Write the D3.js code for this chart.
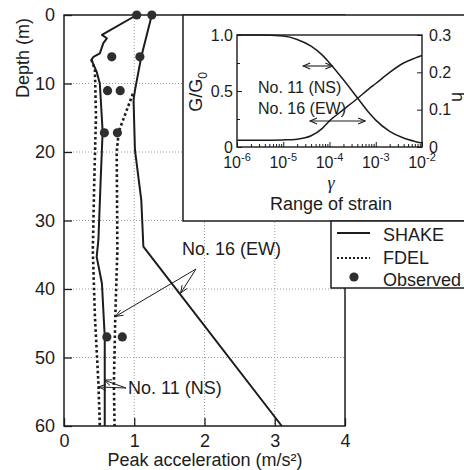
<!DOCTYPE html>
<html><head><meta charset="utf-8">
<script src="https://cdn.jsdelivr.net/npm/d3@7"></script>
<style>
html,body{margin:0;padding:0;background:#fff;}
svg{display:block;font-family:"Liberation Sans",Arial,sans-serif;}
</style></head>
<body>
<svg id="chart" width="464" height="470"></svg>
<script>
// ---------- data ----------
const depthTicks = [0, 10, 20, 30, 40, 50, 60];
const accelTicks = [0, 1, 2, 3, 4];

// SHAKE, No. 16 (EW)
const shakeEWDepth = [0, 6.1, 11, 12.4, 19.7, 27, 33.8, 60];
const shakeEWAccel = [1.25, 1.10, 1.01, 0.99, 1.01, 1.10, 1.13, 3.10];
// SHAKE, No. 11 (NS)
const shakeNSDepth = [0, 2.9, 3.4, 4.1, 5.6, 6.1, 6.5, 8.3, 10, 17, 24.6, 32.8, 35.3, 39.2, 47, 60];
const shakeNSAccel = [1.035, 0.54, 0.61, 0.56, 0.51, 0.42, 0.39, 0.465, 0.51, 0.55, 0.52, 0.49, 0.465, 0.54, 0.58, 0.58];
// FDEL, No. 16 (EW)
const fdelEWDepth = [11.5, 17, 20, 34.3, 44, 53.8, 60];
const fdelEWAccel = [0.98, 0.78, 0.75, 0.76, 0.73, 0.71, 0.72];
// FDEL, No. 11 (NS)
const fdelNSDepth = [6.5, 8, 14.8, 24.6, 34.3, 44, 53.8, 60];
const fdelNSAccel = [0.39, 0.44, 0.455, 0.43, 0.41, 0.44, 0.49, 0.51];
// Observed
const obsDepth = [0, 6.1, 11.05, 17.2, 47];
const obsEW = [1.25, 1.08, 0.80, 0.76, 0.83];
const obsNS = [1.035, 0.68, 0.62, 0.575, 0.61];

// Inset: G/G0 and damping vs strain
const strain = [1e-6, 3e-6, 1e-5, 2e-5, 4e-5, 7e-5, 1e-4, 2e-4, 4e-4, 7e-4, 1e-3, 2e-3, 4e-3, 7e-3, 1e-2];
const gRatio = [1.0, 1.0, 0.99, 0.96, 0.90, 0.82, 0.75, 0.60, 0.44, 0.31, 0.24, 0.14, 0.08, 0.05, 0.035];
const damping = [0.018, 0.018, 0.019, 0.021, 0.03, 0.05, 0.07, 0.10, 0.13, 0.155, 0.17, 0.20, 0.225, 0.238, 0.245];
const strainTicks = [1e-6, 1e-5, 1e-4, 1e-3, 1e-2];
const strainTickExp = ["-6", "-5", "-4", "-3", "-2"];
const gTicks = [0, 0.5, 1.0];
const hTicks = [0, 0.1, 0.2, 0.3];
const nsStrainRange = [2.7e-5, 1.15e-4];
const ewStrainRange = [3.8e-5, 5.9e-4];

// annotation targets [accel, depth]
const ewTargets = [[0.735, 44], [1.66, 40.6]];
const nsTargets = [[0.49, 54.3], [0.57, 53.3]];

// ---------- drawing ----------
const svg = d3.select("#chart");
const ink = "#1c1c1c";
const x = d3.scaleLinear().domain([0, 4]).range([64, 345]);
const y = d3.scaleLinear().domain([0, 60]).range([15, 426]);

svg.append("rect").attr("width", 464).attr("height", 470).attr("fill", "#fff");

// grid
const grid = svg.append("g").attr("stroke", "#9a9a9a").attr("stroke-width", 1).attr("stroke-dasharray", "1,2");
grid.selectAll(".gv").data([1, 2, 3]).join("line")
  .attr("x1", d => x(d)).attr("x2", d => x(d)).attr("y1", y(0)).attr("y2", y(60));
grid.selectAll(".gh").data([10, 20, 30, 40, 50]).join("line")
  .attr("x1", x(0)).attr("x2", x(4)).attr("y1", d => y(d)).attr("y2", d => y(d));

// axes
const yAxis = svg.append("g").attr("transform", `translate(${x(0)},0)`)
  .call(d3.axisLeft(y).tickValues(depthTicks).tickFormat(d3.format("d")).tickSizeInner(-8).tickSizeOuter(0).tickPadding(9));
const xAxis = svg.append("g").attr("transform", `translate(0,${y(60)})`)
  .call(d3.axisBottom(x).tickValues(accelTicks).tickFormat(d3.format("d")).tickSizeInner(-8).tickSizeOuter(0).tickPadding(8));
[yAxis, xAxis].forEach(g => {
  g.select(".domain").remove();
  g.selectAll("line").attr("stroke", ink).attr("stroke-width", 1.3);
  g.selectAll("text").attr("fill", ink).style("font-size", "18px").style("font-family", '"Liberation Sans",Arial,sans-serif');
});

// frame
svg.append("rect").attr("x", x(0)).attr("y", y(0)).attr("width", x(4) - x(0)).attr("height", y(60) - y(0))
  .attr("fill", "none").attr("stroke", ink).attr("stroke-width", 1.5);

// lines
const line = d3.line().x(d => x(d[0])).y(d => y(d[1]));
function drawLine(acc, dep, dashed) {
  svg.append("path").datum(d3.zip(acc, dep)).attr("d", line)
    .attr("fill", "none").attr("stroke", ink)
    .attr("stroke-width", dashed ? 2.6 : 2)
    .attr("stroke-dasharray", dashed ? "2.6,2.6" : null)
    .attr("stroke-linejoin", "round");
}
drawLine(fdelNSAccel, fdelNSDepth, true);
drawLine(fdelEWAccel, fdelEWDepth, true);
drawLine(shakeNSAccel, shakeNSDepth, false);
drawLine(shakeEWAccel, shakeEWDepth, false);

// observed
const obs = d3.zip(obsEW, obsDepth).concat(d3.zip(obsNS, obsDepth));
svg.selectAll(".obs").data(obs).join("circle")
  .attr("cx", d => x(d[0])).attr("cy", d => y(d[1])).attr("r", 4.6).attr("fill", "#2e2e2e");

// annotation arrows
function arrow(x1, y1, x2, y2) {
  const ang = Math.atan2(y2 - y1, x2 - x1), L = 8, w = 0.38;
  svg.append("line").attr("x1", x1).attr("y1", y1).attr("x2", x2).attr("y2", y2)
    .attr("stroke", ink).attr("stroke-width", 1);
  svg.append("path").attr("d",
    `M${x2 - L * Math.cos(ang - w)},${y2 - L * Math.sin(ang - w)}L${x2},${y2}L${x2 - L * Math.cos(ang + w)},${y2 - L * Math.sin(ang + w)}`)
    .attr("fill", "none").attr("stroke", ink).attr("stroke-width", 1);
}
svg.append("text").attr("x", 182).attr("y", 255).attr("fill", ink).style("font-size", "18px").text("No. 16 (EW)");
ewTargets.forEach(t => arrow(196, 269, x(t[0]), y(t[1])));
svg.append("text").attr("x", 128).attr("y", 394).attr("fill", ink).style("font-size", "18px").text("No. 11 (NS)");
nsTargets.forEach(t => arrow(126, 388, x(t[0]), y(t[1])));

// axis titles
svg.append("text").attr("transform", "translate(29,58) rotate(-90)").attr("text-anchor", "middle")
  .attr("fill", ink).style("font-size", "18px").text("Depth (m)");
svg.append("text").attr("x", 205).attr("y", 466).attr("text-anchor", "middle")
  .attr("fill", ink).style("font-size", "18px").text("Peak acceleration (m/s²)");

// ---------- inset ----------
svg.append("rect").attr("x", 183).attr("y", 15).attr("width", 320).attr("height", 206)
  .attr("fill", "#fff").attr("stroke", ink).attr("stroke-width", 1.5);
const ix = d3.scaleLog().domain([1e-6, 1e-2]).range([237, 422]);
const iyG = d3.scaleLinear().domain([0, 1]).range([147, 35]);
const iyH = d3.scaleLinear().domain([0, 0.3]).range([147, 35]);
const inset = svg.append("g");
const fmt = d => d === 0 ? "0" : d3.format(".1f")(d);
const gl = inset.append("g").attr("transform", "translate(237,0)")
  .call(d3.axisLeft(iyG).tickValues(gTicks).tickFormat(fmt).tickSizeInner(-5).tickSizeOuter(0).tickPadding(4));
const glm = inset.append("g").attr("transform", "translate(237,0)")
  .call(d3.axisLeft(iyG).tickValues([0.25, 0.75]).tickFormat("").tickSizeInner(-3).tickSizeOuter(0));
const hr = inset.append("g").attr("transform", "translate(422,0)")
  .call(d3.axisRight(iyH).tickValues(hTicks).tickFormat(fmt).tickSizeInner(-5).tickSizeOuter(0).tickPadding(7));
const minor = [];
strainTicks.slice(0, 4).forEach(t => { for (let k = 2; k <= 9; k++) minor.push(t * k); });
const bx = inset.append("g").attr("transform", "translate(0,147)")
  .call(d3.axisBottom(ix).tickValues(strainTicks).tickFormat("").tickSizeInner(-5).tickSizeOuter(0));
const bxm = inset.append("g").attr("transform", "translate(0,147)")
  .call(d3.axisBottom(ix).tickValues(minor).tickFormat("").tickSizeInner(-3).tickSizeOuter(0));
[gl, glm, hr, bx, bxm].forEach(g => {
  g.select(".domain").remove();
  g.selectAll("line").attr("stroke", ink).attr("stroke-width", 1);
  g.selectAll("text").attr("fill", ink).style("font-size", "16px").style("font-family", '"Liberation Sans",Arial,sans-serif');
});
inset.append("rect").attr("x", 237).attr("y", 35).attr("width", 185).attr("height", 112)
  .attr("fill", "none").attr("stroke", ink).attr("stroke-width", 1.4);
// x tick labels 10^n
strainTicks.forEach((t, i) => {
  const tx = inset.append("text").attr("x", ix(t)).attr("y", 168).attr("text-anchor", "middle")
    .attr("fill", ink).style("font-size", "16px");
  tx.append("tspan").text("10");
  tx.append("tspan").attr("dy", -7).style("font-size", "11px").text(strainTickExp[i]);
});
// curves
inset.append("path").datum(d3.zip(strain, gRatio))
  .attr("d", d3.line().x(d => ix(d[0])).y(d => iyG(d[1])).curve(d3.curveMonotoneX))
  .attr("fill", "none").attr("stroke", ink).attr("stroke-width", 1.5);
inset.append("path").datum(d3.zip(strain, damping))
  .attr("d", d3.line().x(d => ix(d[0])).y(d => iyH(d[1])).curve(d3.curveMonotoneX))
  .attr("fill", "none").attr("stroke", ink).attr("stroke-width", 1.5);
// strain ranges
function dblArrow(x1, x2, yy) {
  inset.append("line").attr("x1", x1).attr("x2", x2).attr("y1", yy).attr("y2", yy).attr("stroke", ink).attr("stroke-width", 1.1);
  [[x1, 1], [x2, -1]].forEach(([px, s]) => {
    inset.append("path").attr("d", `M${px + s * 7},${yy - 3}L${px},${yy}L${px + s * 7},${yy + 3}`)
      .attr("fill", "none").attr("stroke", ink).attr("stroke-width", 1.1);
  });
}
dblArrow(ix(nsStrainRange[0]), ix(nsStrainRange[1]), 66);
dblArrow(ix(ewStrainRange[0]), ix(ewStrainRange[1]), 121);
inset.append("text").attr("x", 258).attr("y", 93).attr("fill", ink).style("font-size", "16px").text("No. 11 (NS)");
inset.append("text").attr("x", 258).attr("y", 114).attr("fill", ink).style("font-size", "16px").text("No. 16 (EW)");
// inset titles
const gt = inset.append("text").attr("transform", "translate(202,92) rotate(-90)").attr("text-anchor", "middle")
  .attr("fill", ink).style("font-size", "18px");
gt.append("tspan").text("G/G");
gt.append("tspan").attr("dy", 5).style("font-size", "12px").text("0");
inset.append("text").attr("transform", "translate(452,97) rotate(90)").attr("text-anchor", "middle")
  .attr("fill", ink).style("font-size", "18px").text("h");
inset.append("text").attr("x", 331).attr("y", 189).attr("text-anchor", "middle")
  .attr("fill", ink).style("font-size", "18px").style("font-style", "italic")
  .style("font-family", '"Liberation Serif","DejaVu Serif",serif').text("γ");
inset.append("text").attr("x", 331).attr("y", 210).attr("text-anchor", "middle")
  .attr("fill", ink).style("font-size", "18px").text("Range of strain");

// ---------- legend ----------
const lg = svg.append("g");
lg.append("rect").attr("x", 331).attr("y", 221).attr("width", 200).attr("height", 67)
  .attr("fill", "#fff").attr("stroke", ink).attr("stroke-width", 1.5);
lg.append("line").attr("x1", 337).attr("x2", 370).attr("y1", 233).attr("y2", 233).attr("stroke", ink).attr("stroke-width", 2);
lg.append("line").attr("x1", 337).attr("x2", 370).attr("y1", 258).attr("y2", 258).attr("stroke", ink)
  .attr("stroke-width", 1.8).attr("stroke-dasharray", "2,2");
lg.append("circle").attr("cx", 354).attr("cy", 277).attr("r", 4.6).attr("fill", "#2e2e2e");
[["SHAKE", 241], ["FDEL", 264], ["Observed", 286]].forEach(([t, yy]) => {
  lg.append("text").attr("x", 383).attr("y", yy).attr("fill", ink).style("font-size", "18px").text(t);
});
</script>
</body></html>
